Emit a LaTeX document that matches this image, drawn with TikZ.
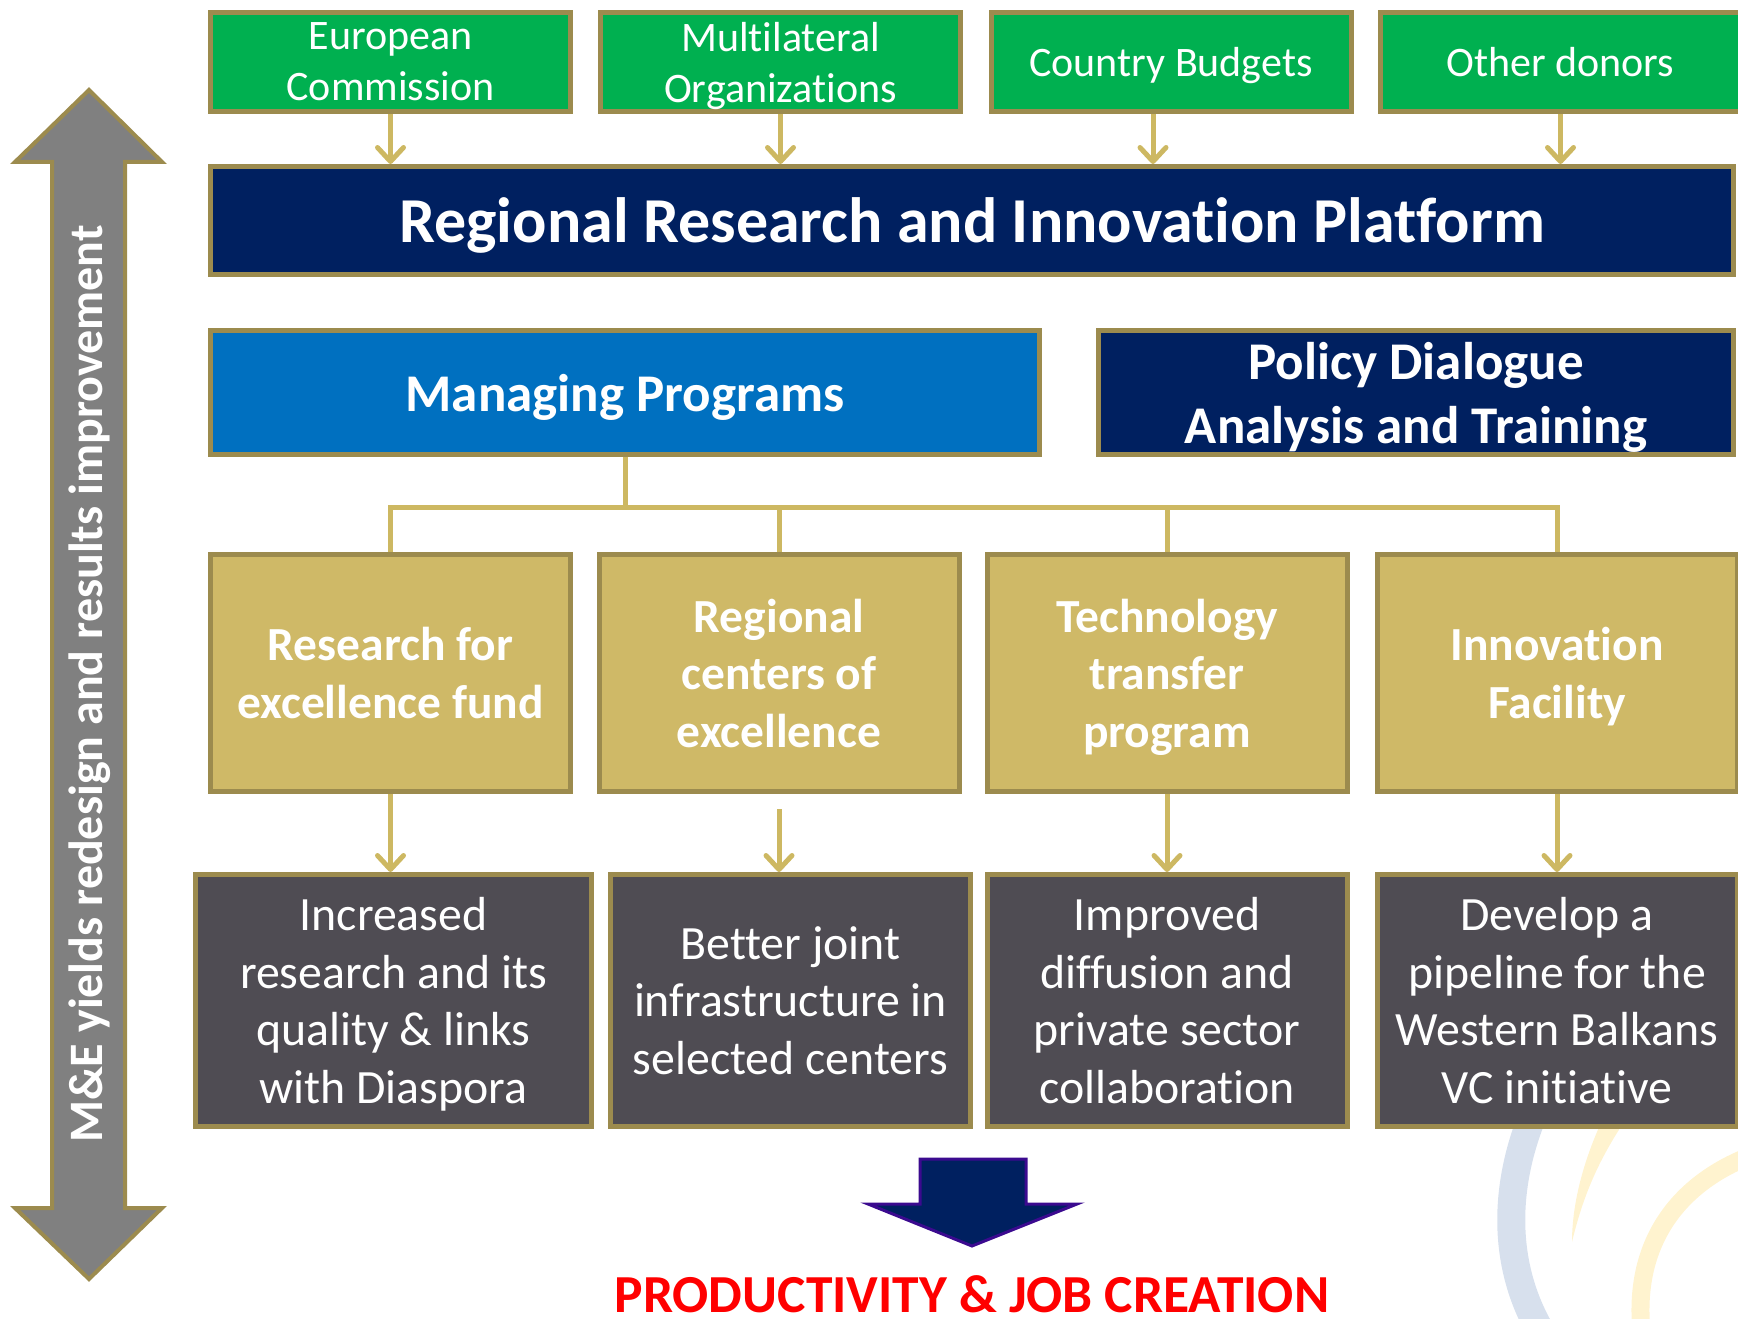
\documentclass[tikz,border=0pt]{standalone}
\usepackage{fontspec}
\setmainfont{Carlito}[Ligatures=NoCommon]
\usetikzlibrary{arrows.meta,positioning}

\definecolor{rim}{HTML}{9C8B4E}
\definecolor{gold}{HTML}{CDB862}
\definecolor{donorgreen}{HTML}{00B050}
\definecolor{navy}{HTML}{002060}
\definecolor{progblue}{HTML}{0070C0}
\definecolor{tan}{HTML}{CFB967}
\definecolor{slate}{HTML}{4F4C53}
\definecolor{megray}{HTML}{808080}
\definecolor{arrowrim}{HTML}{3B0A8F}
\definecolor{jobred}{HTML}{FF0000}
\definecolor{swirlblue}{HTML}{D7E0ED}
\definecolor{swirlyellow}{HTML}{FFF3CF}

\begin{document}
\begin{tikzpicture}
  [x=1pt,y=-1pt,
   box/.style={draw=rim,line width=5pt,text=white,align=center,inner sep=0pt,text depth=0pt},
   donor/.style={box,fill=donorgreen,minimum width=360pt,minimum height=99pt,font=\fontsize{42}{51}\selectfont},
   navybox/.style={box,fill=navy,font=\bfseries\fontsize{53}{64}\selectfont},
   prog/.style={box,fill=tan,minimum width=360pt,minimum height=237pt,font=\bfseries\fontsize{47.5}{57.6}\selectfont},
   result/.style={box,fill=slate,minimum width=360pt,minimum height=252pt,font=\fontsize{47.8}{57.6}\selectfont},
   link/.style={draw=gold,line width=5pt},
   feed/.style={link,-{Straight Barb[length=14pt,width=26pt,round]}}]
  \clip (0,0) rectangle (1738,1319);

  % background swirls
  \draw[swirlblue,line width=28pt] (1535,1110) .. controls (1505,1180) and (1500,1260) .. (1540,1330);
  \fill[swirlyellow] (1600,1125) .. controls (1580,1170) and (1572,1210) .. (1572,1242)
    .. controls (1582,1200) and (1596,1165) .. (1622,1125) -- cycle;
  \draw[swirlyellow,line width=18pt] (1745,1158) .. controls (1680,1185) and (1635,1240) .. (1641,1325);

  % funding sources
  \node[donor] (ec) at (390.5,62) {European\\Commission};
  \node[donor] (mo) at (780.5,62) {Multilateral\\Organizations};
  \node[donor] (cb) at (1171,62) {Country Budgets};
  \node[donor] (od) at (1560.5,62) {Other donors};

  \node[navybox,minimum width=1523pt,minimum height=108pt,font=\bfseries\fontsize{64}{76}\selectfont] (rrip) at (972,220.5) {Regional Research and Innovation Platform};

  \node[box,fill=progblue,minimum width=829pt,minimum height=124pt,font=\bfseries\fontsize{53}{64}\selectfont] (mp) at (625,392.5) {Managing Programs};
  \node[navybox,minimum width=635pt,minimum height=124pt] (pd) at (1416,392.5) {Policy Dialogue\\Analysis and Training};

  % programs
  \node[prog] (t1) at (390.5,673) {Research for\\excellence fund};
  \node[prog] (t2) at (779,673) {Regional\\centers of\\excellence};
  \node[prog] (t3) at (1167,673) {Technology\\transfer\\program};
  \node[prog] (t4) at (1557,673) {Innovation\\Facility};

  % results
  \node[result,minimum width=396pt] (r1) at (393.5,1000.5) {Increased\\research and its\\quality \& links\\with Diaspora};
  \node[result] (r2) at (790.5,1000.5) {Better joint\\infrastructure in\\selected centers};
  \node[result] (r3) at (1167,1000.5) {Improved\\diffusion and\\private sector\\collaboration};
  \node[result] (r4) at (1557,1000.5) {Develop a\\pipeline for the\\Western Balkans\\VC initiative};

  \foreach \src in {ec, mo, od}
    \draw[feed] (\src.south) -- (\src.south |- rrip.north);
  \draw[feed] ([xshift=-18pt]cb.south) -- ([xshift=-18pt]cb.south |- rrip.north);

  \draw[link] (mp.south) -- ++(0,50) coordinate (bus);
  \foreach \t in {t1, t2, t3, t4}
    \draw[link] (\t.north) |- (bus);

  \foreach \t/\r in {t1/r1, t3/r3, t4/r4}
    \draw[feed] (\t.south) -- (\t.south |- \r.north);
  \draw[feed] ([yshift=-15pt]t2.south) -- (t2.south |- r2.north);

  % outcome
  \draw[draw=arrowrim,fill=navy,line width=3pt] (920,1159) -- (1026,1159) -- (1026,1204) -- (1077,1204)
    -- (972,1246) -- (868,1204) -- (920,1204) -- cycle;
  \node[text=jobred,font=\bfseries\fontsize{53.5}{60}\selectfont] (goal) at (972,1294) {PRODUCTIVITY \& JOB CREATION};

  % monitoring and evaluation
  \draw[draw=rim,fill=megray,line width=4pt] (89,90) -- (162,162) -- (125,162) -- (125,1208) -- (162,1208)
    -- (89,1279) -- (15,1208) -- (52,1208) -- (52,162) -- (15,162) -- cycle;
  \node[rotate=90,text=white,font=\bfseries\fontsize{48}{54}\selectfont] (me) at (90,684) {M\&E yields redesign and results improvement};
\end{tikzpicture}
\end{document}
